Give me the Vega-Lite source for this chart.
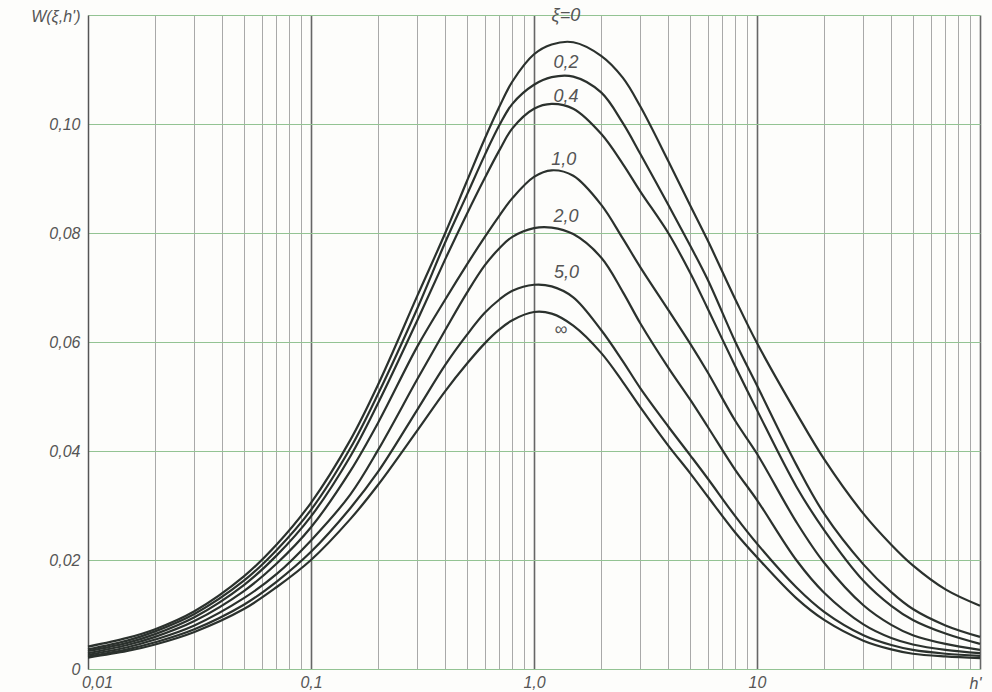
{
  "$schema": "https://vega.github.io/schema/vega-lite/v6.json",
  "width": 892,
  "height": 654,
  "autosize": {"type": "none"},
  "padding": {"left": 88, "top": 15, "right": 12, "bottom": 23},
  "background": "#fdfdfb",
  "config": {"view": {"stroke": null}},
  "datasets": {
    "curves": [
      {"xi":"0","h":0.01,"w":0.0041},{"xi":"0","h":0.015,"w":0.0057},{"xi":"0","h":0.02,"w":0.0073},{"xi":"0","h":0.03,"w":0.0106},{"xi":"0","h":0.05,"w":0.017},{"xi":"0","h":0.07,"w":0.0228},{"xi":"0","h":0.1,"w":0.0305},{"xi":"0","h":0.15,"w":0.042},{"xi":"0","h":0.2,"w":0.0522},{"xi":"0","h":0.3,"w":0.0685},{"xi":"0","h":0.4,"w":0.08},{"xi":"0","h":0.5,"w":0.0895},{"xi":"0","h":0.6,"w":0.0972},{"xi":"0","h":0.7,"w":0.1032},{"xi":"0","h":0.8,"w":0.1078},{"xi":"0","h":1.0,"w":0.1128},{"xi":"0","h":1.2,"w":0.1146},{"xi":"0","h":1.5,"w":0.115},{"xi":"0","h":2,"w":0.1125},{"xi":"0","h":2.5,"w":0.1085},{"xi":"0","h":3,"w":0.1032},{"xi":"0","h":4,"w":0.0932},{"xi":"0","h":5,"w":0.0852},{"xi":"0","h":6,"w":0.0787},{"xi":"0","h":8,"w":0.0678},{"xi":"0","h":10,"w":0.0598},{"xi":"0","h":15,"w":0.047},{"xi":"0","h":20,"w":0.0385},{"xi":"0","h":30,"w":0.0285},{"xi":"0","h":40,"w":0.0228},{"xi":"0","h":50,"w":0.019},{"xi":"0","h":70,"w":0.0146},{"xi":"0","h":100,"w":0.0116},
      {"xi":"0.2","h":0.01,"w":0.0036},{"xi":"0.2","h":0.015,"w":0.0052},{"xi":"0.2","h":0.02,"w":0.0069},{"xi":"0.2","h":0.03,"w":0.0101},{"xi":"0.2","h":0.05,"w":0.0162},{"xi":"0.2","h":0.07,"w":0.0218},{"xi":"0.2","h":0.1,"w":0.0292},{"xi":"0.2","h":0.15,"w":0.0405},{"xi":"0.2","h":0.2,"w":0.0505},{"xi":"0.2","h":0.3,"w":0.0662},{"xi":"0.2","h":0.4,"w":0.0783},{"xi":"0.2","h":0.5,"w":0.087},{"xi":"0.2","h":0.6,"w":0.0942},{"xi":"0.2","h":0.7,"w":0.0998},{"xi":"0.2","h":0.8,"w":0.1037},{"xi":"0.2","h":1.0,"w":0.1072},{"xi":"0.2","h":1.2,"w":0.1086},{"xi":"0.2","h":1.5,"w":0.1087},{"xi":"0.2","h":2,"w":0.1058},{"xi":"0.2","h":2.5,"w":0.1002},{"xi":"0.2","h":3,"w":0.0945},{"xi":"0.2","h":4,"w":0.0852},{"xi":"0.2","h":5,"w":0.0778},{"xi":"0.2","h":6,"w":0.0715},{"xi":"0.2","h":8,"w":0.06},{"xi":"0.2","h":10,"w":0.052},{"xi":"0.2","h":15,"w":0.0375},{"xi":"0.2","h":20,"w":0.0285},{"xi":"0.2","h":30,"w":0.0192},{"xi":"0.2","h":40,"w":0.0141},{"xi":"0.2","h":50,"w":0.011},{"xi":"0.2","h":70,"w":0.008},{"xi":"0.2","h":100,"w":0.0059},
      {"xi":"0.4","h":0.01,"w":0.0033},{"xi":"0.4","h":0.015,"w":0.0048},{"xi":"0.4","h":0.02,"w":0.0064},{"xi":"0.4","h":0.03,"w":0.0095},{"xi":"0.4","h":0.05,"w":0.0154},{"xi":"0.4","h":0.07,"w":0.0208},{"xi":"0.4","h":0.1,"w":0.028},{"xi":"0.4","h":0.15,"w":0.039},{"xi":"0.4","h":0.2,"w":0.0488},{"xi":"0.4","h":0.3,"w":0.064},{"xi":"0.4","h":0.4,"w":0.0752},{"xi":"0.4","h":0.5,"w":0.0835},{"xi":"0.4","h":0.6,"w":0.09},{"xi":"0.4","h":0.7,"w":0.0952},{"xi":"0.4","h":0.8,"w":0.0992},{"xi":"0.4","h":1.0,"w":0.1028},{"xi":"0.4","h":1.2,"w":0.1037},{"xi":"0.4","h":1.5,"w":0.1028},{"xi":"0.4","h":2,"w":0.0982},{"xi":"0.4","h":2.5,"w":0.0927},{"xi":"0.4","h":3,"w":0.0876},{"xi":"0.4","h":4,"w":0.08},{"xi":"0.4","h":5,"w":0.0728},{"xi":"0.4","h":6,"w":0.0662},{"xi":"0.4","h":8,"w":0.0555},{"xi":"0.4","h":10,"w":0.0475},{"xi":"0.4","h":15,"w":0.0335},{"xi":"0.4","h":20,"w":0.0255},{"xi":"0.4","h":30,"w":0.0162},{"xi":"0.4","h":40,"w":0.0116},{"xi":"0.4","h":50,"w":0.009},{"xi":"0.4","h":70,"w":0.0065},{"xi":"0.4","h":100,"w":0.0046},
      {"xi":"1.0","h":0.01,"w":0.0029},{"xi":"1.0","h":0.015,"w":0.0044},{"xi":"1.0","h":0.02,"w":0.0059},{"xi":"1.0","h":0.03,"w":0.0088},{"xi":"1.0","h":0.05,"w":0.0143},{"xi":"1.0","h":0.07,"w":0.0193},{"xi":"1.0","h":0.1,"w":0.026},{"xi":"1.0","h":0.15,"w":0.0363},{"xi":"1.0","h":0.2,"w":0.0452},{"xi":"1.0","h":0.3,"w":0.0592},{"xi":"1.0","h":0.4,"w":0.0678},{"xi":"1.0","h":0.5,"w":0.0742},{"xi":"1.0","h":0.6,"w":0.0792},{"xi":"1.0","h":0.7,"w":0.0832},{"xi":"1.0","h":0.8,"w":0.0864},{"xi":"1.0","h":1.0,"w":0.0903},{"xi":"1.0","h":1.2,"w":0.0915},{"xi":"1.0","h":1.5,"w":0.0905},{"xi":"1.0","h":2,"w":0.0852},{"xi":"1.0","h":2.5,"w":0.079},{"xi":"1.0","h":3,"w":0.0737},{"xi":"1.0","h":4,"w":0.0659},{"xi":"1.0","h":5,"w":0.0598},{"xi":"1.0","h":6,"w":0.0545},{"xi":"1.0","h":8,"w":0.0455},{"xi":"1.0","h":10,"w":0.0395},{"xi":"1.0","h":15,"w":0.027},{"xi":"1.0","h":20,"w":0.0195},{"xi":"1.0","h":30,"w":0.0117},{"xi":"1.0","h":40,"w":0.0081},{"xi":"1.0","h":50,"w":0.0062},{"xi":"1.0","h":70,"w":0.0046},{"xi":"1.0","h":100,"w":0.0035},
      {"xi":"2.0","h":0.01,"w":0.0026},{"xi":"2.0","h":0.015,"w":0.004},{"xi":"2.0","h":0.02,"w":0.0054},{"xi":"2.0","h":0.03,"w":0.008},{"xi":"2.0","h":0.05,"w":0.013},{"xi":"2.0","h":0.07,"w":0.0174},{"xi":"2.0","h":0.1,"w":0.0236},{"xi":"2.0","h":0.15,"w":0.032},{"xi":"2.0","h":0.2,"w":0.0402},{"xi":"2.0","h":0.3,"w":0.0532},{"xi":"2.0","h":0.4,"w":0.0622},{"xi":"2.0","h":0.5,"w":0.069},{"xi":"2.0","h":0.6,"w":0.074},{"xi":"2.0","h":0.7,"w":0.0772},{"xi":"2.0","h":0.8,"w":0.0793},{"xi":"2.0","h":1.0,"w":0.0809},{"xi":"2.0","h":1.2,"w":0.081},{"xi":"2.0","h":1.5,"w":0.0798},{"xi":"2.0","h":2,"w":0.0755},{"xi":"2.0","h":2.5,"w":0.0692},{"xi":"2.0","h":3,"w":0.0634},{"xi":"2.0","h":4,"w":0.0553},{"xi":"2.0","h":5,"w":0.0495},{"xi":"2.0","h":6,"w":0.0445},{"xi":"2.0","h":8,"w":0.0365},{"xi":"2.0","h":10,"w":0.031},{"xi":"2.0","h":15,"w":0.02},{"xi":"2.0","h":20,"w":0.014},{"xi":"2.0","h":30,"w":0.0082},{"xi":"2.0","h":40,"w":0.0057},{"xi":"2.0","h":50,"w":0.0045},{"xi":"2.0","h":70,"w":0.0035},{"xi":"2.0","h":100,"w":0.0029},
      {"xi":"5.0","h":0.01,"w":0.0023},{"xi":"5.0","h":0.015,"w":0.0036},{"xi":"5.0","h":0.02,"w":0.0049},{"xi":"5.0","h":0.03,"w":0.0073},{"xi":"5.0","h":0.05,"w":0.0118},{"xi":"5.0","h":0.07,"w":0.016},{"xi":"5.0","h":0.1,"w":0.0215},{"xi":"5.0","h":0.15,"w":0.0295},{"xi":"5.0","h":0.2,"w":0.0362},{"xi":"5.0","h":0.3,"w":0.0476},{"xi":"5.0","h":0.4,"w":0.0558},{"xi":"5.0","h":0.5,"w":0.0613},{"xi":"5.0","h":0.6,"w":0.0653},{"xi":"5.0","h":0.7,"w":0.0678},{"xi":"5.0","h":0.8,"w":0.0694},{"xi":"5.0","h":1.0,"w":0.0705},{"xi":"5.0","h":1.2,"w":0.0702},{"xi":"5.0","h":1.5,"w":0.0682},{"xi":"5.0","h":2,"w":0.0622},{"xi":"5.0","h":2.5,"w":0.0565},{"xi":"5.0","h":3,"w":0.0515},{"xi":"5.0","h":4,"w":0.0445},{"xi":"5.0","h":5,"w":0.0393},{"xi":"5.0","h":6,"w":0.035},{"xi":"5.0","h":8,"w":0.028},{"xi":"5.0","h":10,"w":0.023},{"xi":"5.0","h":15,"w":0.015},{"xi":"5.0","h":20,"w":0.0105},{"xi":"5.0","h":30,"w":0.0062},{"xi":"5.0","h":40,"w":0.0044},{"xi":"5.0","h":50,"w":0.0035},{"xi":"5.0","h":70,"w":0.0028},{"xi":"5.0","h":100,"w":0.0024},
      {"xi":"inf","h":0.01,"w":0.0021},{"xi":"inf","h":0.015,"w":0.0033},{"xi":"inf","h":0.02,"w":0.0045},{"xi":"inf","h":0.03,"w":0.0068},{"xi":"inf","h":0.05,"w":0.011},{"xi":"inf","h":0.07,"w":0.015},{"xi":"inf","h":0.1,"w":0.02},{"xi":"inf","h":0.15,"w":0.0275},{"xi":"inf","h":0.2,"w":0.0338},{"xi":"inf","h":0.3,"w":0.0438},{"xi":"inf","h":0.4,"w":0.051},{"xi":"inf","h":0.5,"w":0.056},{"xi":"inf","h":0.6,"w":0.0597},{"xi":"inf","h":0.7,"w":0.0623},{"xi":"inf","h":0.8,"w":0.064},{"xi":"inf","h":1.0,"w":0.0655},{"xi":"inf","h":1.2,"w":0.0652},{"xi":"inf","h":1.5,"w":0.063},{"xi":"inf","h":2,"w":0.058},{"xi":"inf","h":2.5,"w":0.0527},{"xi":"inf","h":3,"w":0.048},{"xi":"inf","h":4,"w":0.041},{"xi":"inf","h":5,"w":0.036},{"xi":"inf","h":6,"w":0.0317},{"xi":"inf","h":8,"w":0.025},{"xi":"inf","h":10,"w":0.0205},{"xi":"inf","h":15,"w":0.013},{"xi":"inf","h":20,"w":0.009},{"xi":"inf","h":30,"w":0.0052},{"xi":"inf","h":40,"w":0.0036},{"xi":"inf","h":50,"w":0.0028},{"xi":"inf","h":70,"w":0.0023},{"xi":"inf","h":100,"w":0.002}
    ],
    "labels": [
      {"t":"ξ=0","h":1.39,"w":0.1198},
      {"t":"0,2","h":1.39,"w":0.1112},
      {"t":"0,4","h":1.39,"w":0.105},
      {"t":"1,0","h":1.36,"w":0.0934},
      {"t":"2,0","h":1.39,"w":0.0829},
      {"t":"5,0","h":1.4,"w":0.0727},
      {"t":"∞","h":1.32,"w":0.0622}
    ]
  },
  "layer": [
    {
      "data": {"name": "curves"},
      "mark": {"type": "line", "interpolate": "catmull-rom", "color": "#2b312d", "strokeWidth": 2.2},
      "encoding": {
        "x": {
          "field": "h", "type": "quantitative",
          "scale": {"type": "log", "domain": [0.01, 100]},
          "axis": {
            "values": [0.01,0.02,0.03,0.04,0.05,0.06,0.07,0.08,0.09,0.1,0.2,0.3,0.4,0.5,0.6,0.7,0.8,0.9,1,2,3,4,5,6,7,8,9,10,20,30,40,50,60,70,80,90,100],
            "labelExpr": "datum.value==0.01?'0,01':datum.value==0.1?'0,1':datum.value==1?'1,0':datum.value==10?'10':''",
            "labelOffset": {"condition": {"test": "datum.value==0.01", "value": 9}, "value": 0},
            "labelFont": "Liberation Sans", "labelFontStyle": "italic", "labelFontSize": 16, "labelColor": "#555",
            "labelPadding": 5, "labelOverlap": false, "labelBound": false, "labelFlush": false,
            "ticks": false, "domain": false,
            "grid": true,
            "gridColor": {"condition": {"test": "datum.value==0.1||datum.value==1||datum.value==10||datum.value==100", "value": "#666666"}, "value": "#a9a9a9"},
            "gridWidth": {"condition": {"test": "datum.value==0.1||datum.value==1||datum.value==10||datum.value==100", "value": 1.6}, "value": 1},
            "title": "h'", "titleX": 887, "titleY": 14, "titleAlign": "center", "titleBaseline": "middle",
            "titleFont": "Liberation Sans", "titleFontStyle": "italic", "titleFontWeight": "normal", "titleFontSize": 16, "titleColor": "#555"
          }
        },
        "y": {
          "field": "w", "type": "quantitative",
          "scale": {"domain": [0, 0.12], "nice": false},
          "axis": {
            "values": [0, 0.02, 0.04, 0.06, 0.08, 0.1, 0.12],
            "labelExpr": "datum.value==0?'0':datum.value>0.11?'':replace(format(datum.value,'.2f'),'.',',')",
            "labelFont": "Liberation Sans", "labelFontStyle": "italic", "labelFontSize": 16, "labelColor": "#555",
            "labelPadding": 8,
            "ticks": false, "domain": true, "domainColor": "#555", "domainWidth": 1.5,
            "grid": true, "gridColor": "#93c393", "gridWidth": 1.2,
            "title": "W(ξ,h')", "titleAngle": 0, "titleX": -8, "titleY": 1, "titleAlign": "right", "titleBaseline": "middle",
            "titleFont": "Liberation Sans", "titleFontStyle": "italic", "titleFontWeight": "normal", "titleFontSize": 16, "titleColor": "#555"
          }
        },
        "detail": {"field": "xi", "type": "nominal"}
      }
    },
    {
      "data": {"name": "labels"},
      "mark": {"type": "text", "font": "Liberation Sans", "fontStyle": "italic", "fontSize": 18, "color": "#555", "align": "center", "baseline": "middle"},
      "encoding": {
        "x": {"field": "h", "type": "quantitative"},
        "y": {"field": "w", "type": "quantitative"},
        "text": {"field": "t", "type": "nominal"}
      }
    }
  ]
}
